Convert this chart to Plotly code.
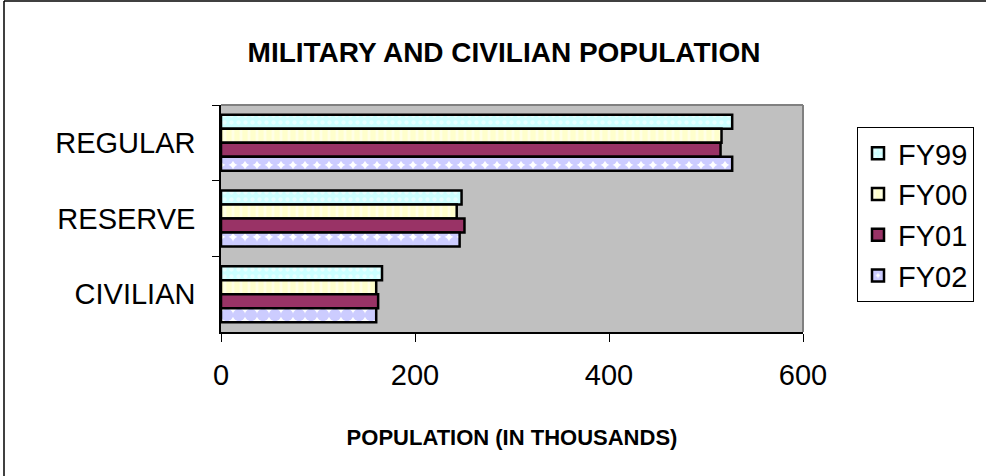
import plotly.graph_objects as go

categories = ["REGULAR", "RESERVE", "CIVILIAN"]
series_names = ["FY99", "FY00", "FY01", "FY02"]
fy99 = [527, 248, 166]
fy00 = [516, 243, 160]
fy01 = [515, 251, 162]
fy02 = [527, 246, 160]
x_ticks = [0, 200, 400, 600]

values = [fy99, fy00, fy01, fy02]
styles = [
    dict(color="#CCFFFF", pattern=dict(shape=".", bgcolor="#CCFFFF", fgcolor="#FFFFFF", size=7, solidity=0.3)),
    dict(color="#FFFFCC", pattern=dict(shape="|", bgcolor="#FFFFCC", fgcolor="#FFFFFF", size=8, solidity=0.35)),
    dict(color="#993366"),
    dict(color="#FFFFFF", pattern=dict(shape=".", bgcolor="#FFFFFF", fgcolor="#9999FF", size=12, solidity=0.8)),
]

FONT = "Arial, Liberation Sans, sans-serif"

fig = go.Figure()
for name, vals, st in zip(series_names, values, styles):
    fig.add_trace(go.Bar(
        y=categories, x=vals, name=name, orientation="h",
        legendgroup=name,
        marker=dict(line=dict(color="black", width=2.5), **st),
    ))

L, R, T, B = 221, 803, 105, 332
W, H = 986, 476

def px_x(p):
    return (p - L) / (R - L)

def px_y(p):
    return (B - p) / (B - T)

fig.update_layout(
    width=W, height=H,
    margin=dict(l=L, r=W - R, t=T, b=H - B, pad=0),
    paper_bgcolor="white", plot_bgcolor="#C0C0C0",
    barmode="group", bargap=0.26, bargroupgap=0,
    font=dict(family=FONT, color="black"),
    title=dict(text="<b>MILITARY AND CIVILIAN POPULATION</b>", x=504 / W, xanchor="center",
               y=1 - 52 / H, yanchor="middle", font=dict(size=28, family=FONT, color="black")),
    legend=dict(x=px_x(857), y=px_y(127), xanchor="left", yanchor="top",
                bgcolor="white", bordercolor="black", borderwidth=1,
                font=dict(size=29, family=FONT), tracegroupgap=12, traceorder="normal"),
    showlegend=True,
    xaxis=dict(range=[0, 600], tickvals=x_ticks, ticks="outside", ticklen=8, tickcolor="black",
               showline=True, linecolor="black", linewidth=1.5, showgrid=False, zeroline=False,
               tickfont=dict(size=29, family=FONT), ticklabelstandoff=8,
               title=dict(text="<b>POPULATION (IN THOUSANDS)</b>", font=dict(size=22, family=FONT), standoff=40)),
    yaxis=dict(categoryorder="array", categoryarray=categories, autorange="reversed",
               ticks="outside", tickson="boundaries", ticklen=7, tickcolor="black",
               showline=True, linecolor="black", linewidth=1.5, showgrid=False,
               tickfont=dict(size=29, family=FONT), ticklabelstandoff=18),
    shapes=[
        dict(type="line", xref="paper", yref="paper", x0=0, x1=1, y0=1, y1=1,
             line=dict(color="#808080", width=2)),
        dict(type="line", xref="paper", yref="paper", x0=1, x1=1, y0=0, y1=1,
             line=dict(color="#808080", width=2)),
        dict(type="line", xref="paper", yref="paper", x0=px_x(4), x1=px_x(990), y0=px_y(1), y1=px_y(1),
             line=dict(color="black", width=1.5)),
        dict(type="line", xref="paper", yref="paper", x0=px_x(4), x1=px_x(4), y0=px_y(1), y1=px_y(480),
             line=dict(color="black", width=1.5)),
    ],
)

fig.write_html("out.html", config={"displayModeBar": False},
               post_script="document.body.style.margin='0';document.body.style.overflow='hidden';")
